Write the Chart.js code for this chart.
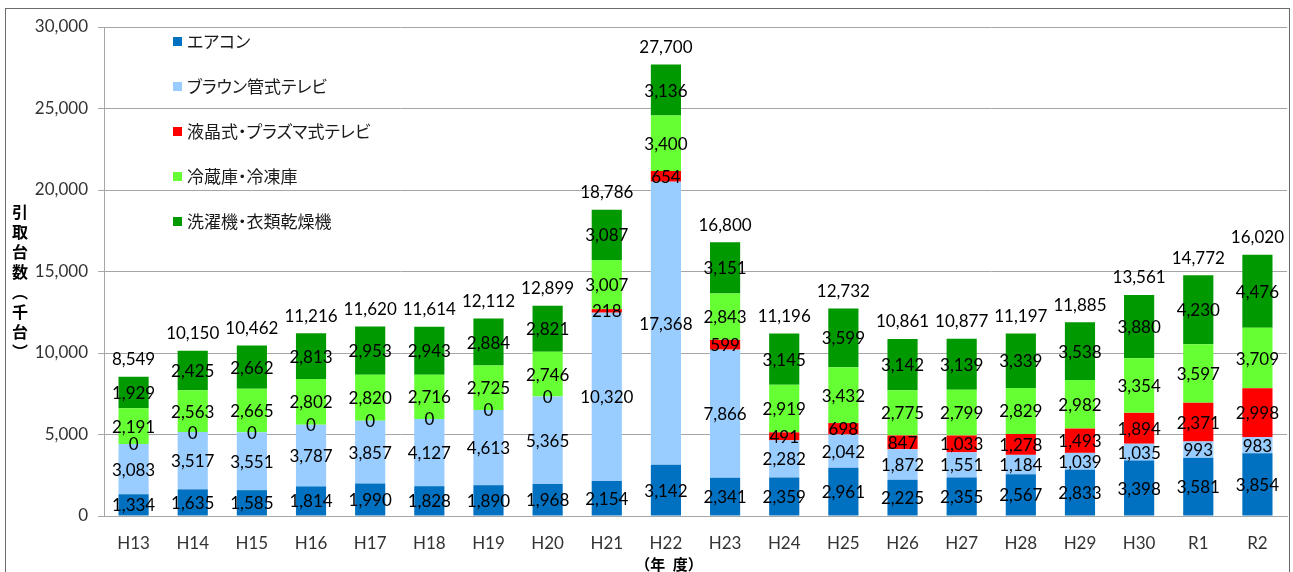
<!DOCTYPE html>
<html lang="ja">
<head>
<meta charset="utf-8">
<script src="https://cdn.jsdelivr.net/npm/chart.js@4.4.1/dist/chart.umd.min.js"></script>
<style>
html,body{margin:0;padding:0;background:#fff;}
#wrap{position:relative;width:1293px;height:572px;overflow:hidden;background:#fff;}
#frame{position:absolute;left:5px;top:8px;width:1285px;height:700px;border:1.5px solid #6b6b6b;box-sizing:border-box;pointer-events:none;}
#c{position:absolute;left:0;top:0;}
#ytitle{position:absolute;left:8px;top:204px;writing-mode:vertical-rl;text-orientation:upright;font:bold 16px 'Noto Sans CJK JP';letter-spacing:4px;color:#000;}
#xtitle{position:absolute;left:669px;top:563px;transform:translate(-50%,-50%);font:bold 15px 'Noto Sans CJK JP';white-space:pre;word-spacing:4px;color:#000;}
.li{position:absolute;left:173px;display:flex;align-items:center;white-space:nowrap;transform:translateY(-50%);font:17px 'Noto Sans CJK JP';font-feature-settings:"palt";color:#1a1a1a;line-height:20px;}
.sw{width:9px;height:9px;margin-right:5px;flex:none;}
</style>
</head>
<body>
<div id="wrap">
  <canvas id="c" width="1293" height="572"></canvas>
  <div id="frame"></div>
  <div id="ytitle">引取台数（千台）</div>
  <div id="xtitle">（年 度）</div>
  <div id="legend"></div>
</div>
<script>
const categories = ['H13','H14','H15','H16','H17','H18','H19','H20','H21','H22','H23','H24','H25','H26','H27','H28','H29','H30','R1','R2'];
const seriesNames = ['エアコン','ブラウン管式テレビ','液晶式・プラズマ式テレビ','冷蔵庫・冷凍庫','洗濯機・衣類乾燥機'];
const seriesColors = ['#0070C0','#99CCFF','#FF0000','#66FF33','#009900'];
const aircon = [1334,1635,1585,1814,1990,1828,1890,1968,2154,3142,2341,2359,2961,2225,2355,2567,2833,3398,3581,3854];
const crtTv = [3083,3517,3551,3787,3857,4127,4613,5365,10320,17368,7866,2282,2042,1872,1551,1184,1039,1035,993,983];
const flatTv = [0,0,0,0,0,0,0,0,218,654,599,491,698,847,1033,1278,1493,1894,2371,2998];
const fridge = [2191,2563,2665,2802,2820,2716,2725,2746,3007,3400,2843,2919,3432,2775,2799,2829,2982,3354,3597,3709];
const washer = [1929,2425,2662,2813,2953,2943,2884,2821,3087,3136,3151,3145,3599,3142,3139,3339,3538,3880,4230,4476];
const totals = [8549,10150,10462,11216,11620,11614,12112,12899,18786,27700,16800,11196,12732,10861,10877,11197,11885,13561,14772,16020];
const yMin = 0, yMax = 30000, yStep = 5000;

const seriesData = [aircon, crtTv, flatTv, fridge, washer];
const fmt = v => Number(v).toLocaleString('en-US');
const FONT = 'Lato, "Noto Sans CJK JP", sans-serif';

// legend (HTML, built from the series arrays)
const legend = document.getElementById('legend');
seriesNames.forEach((n, i) => {
  const d = document.createElement('div');
  d.className = 'li';
  d.style.top = (41 + i * 45) + 'px';
  const s = document.createElement('span');
  s.className = 'sw';
  s.style.background = seriesColors[i];
  const t = document.createElement('span');
  t.textContent = n;
  d.appendChild(s); d.appendChild(t);
  legend.appendChild(d);
});

const labelPlugin = {
  id: 'segLabels',
  afterDatasetsDraw(chart) {
    const ctx = chart.ctx;
    ctx.save();
    ctx.font = '17px ' + FONT;
    ctx.fillStyle = '#000';
    ctx.textAlign = 'center';
    ctx.textBaseline = 'middle';
    chart.data.datasets.forEach((ds, i) => {
      const meta = chart.getDatasetMeta(i);
      meta.data.forEach((el, j) => {
        const y = (el.y + el.base) / 2;
        ctx.fillText(fmt(ds.data[j]), el.x, y + 1);
      });
    });
    const top = chart.getDatasetMeta(chart.data.datasets.length - 1);
    top.data.forEach((el, j) => {
      ctx.fillText(fmt(totals[j]), el.x, el.y - 17);
    });
    ctx.restore();
  }
};

new Chart(document.getElementById('c'), {
  type: 'bar',
  data: {
    labels: categories,
    datasets: seriesNames.map((n, i) => ({
      label: n,
      data: seriesData[i],
      backgroundColor: seriesColors[i],
      borderWidth: 0,
      barPercentage: 0.51,
      categoryPercentage: 1
    }))
  },
  options: {
    responsive: false,
    animation: false,
    layout: { padding: { top: 27, right: 6, left: 0, bottom: 0 } },
    plugins: { legend: { display: false }, tooltip: { enabled: false } },
    scales: {
      x: {
        stacked: true,
        grid: { display: false, drawTicks: false },
        border: { display: true, color: '#a6a6a6', width: 1 },
        ticks: { font: { family: FONT, size: 17 }, color: '#333333', padding: 17, maxRotation: 0, autoSkip: false },
        afterFit(s) { s.height = 56; }
      },
      y: {
        stacked: true,
        min: yMin, max: yMax,
        ticks: { stepSize: yStep, callback: v => fmt(v), font: { family: FONT, size: 17 }, color: '#333333', padding: 10 },
        grid: { color: '#a6a6a6', tickLength: 6, lineWidth: 1 },
        border: { color: '#a6a6a6', width: 1 },
        afterFit(s) { s.width = 104; }
      }
    }
  },
  plugins: [labelPlugin]
});
</script>
</body>
</html>
